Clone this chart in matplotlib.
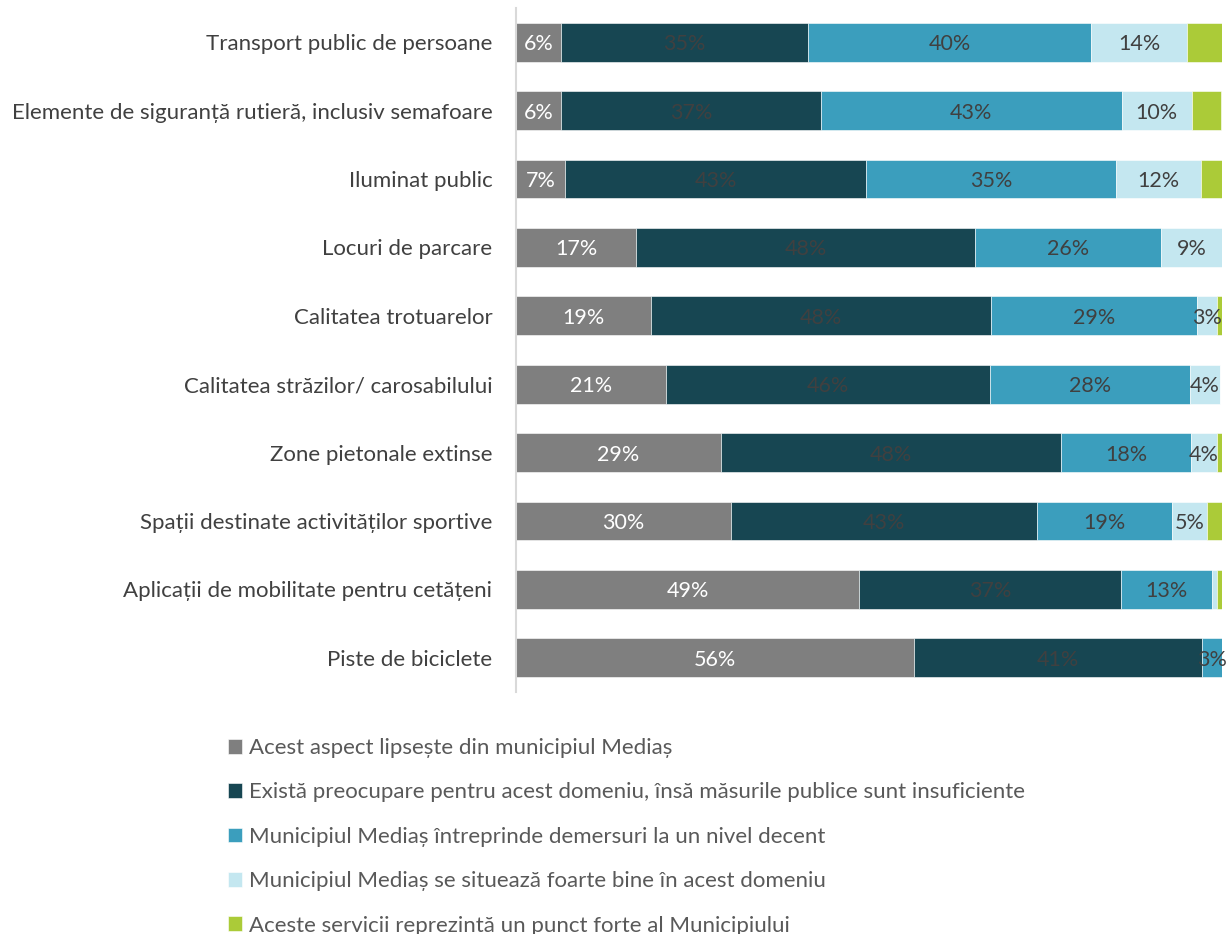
import numpy as np
import matplotlib.pyplot as plt

plt.rcParams["font.family"] = ["Lato", "DejaVu Sans"]

categories = [
    "Transport public de persoane",
    "Elemente de siguranță rutieră, inclusiv semafoare",
    "Iluminat public",
    "Locuri de parcare",
    "Calitatea trotuarelor",
    "Calitatea străzilor/ carosabilului",
    "Zone pietonale extinse",
    "Spații destinate activităților sportive",
    "Aplicații de mobilitate pentru cetățeni",
    "Piste de biciclete",
]

series_names = [
    "Acest aspect lipsește din municipiul Mediaș",
    "Există preocupare pentru acest domeniu, însă măsurile publice sunt insuficiente",
    "Municipiul Mediaș întreprinde demersuri la un nivel decent",
    "Municipiul Mediaș se situează foarte bine în acest domeniu",
    "Aceste servicii reprezintă un punct forte al Municipiului",
]

lipseste = [6.4, 6.4, 7.0, 17.0, 19.1, 21.2, 29.0, 30.5, 48.6, 56.4]
insuficiente = [35.0, 36.8, 42.6, 48.0, 48.2, 46.0, 48.2, 43.3, 37.1, 40.8]
decent = [40.1, 42.6, 35.4, 26.4, 29.2, 28.3, 18.4, 19.1, 12.9, 2.8]
foarte_bine = [13.6, 9.9, 12.0, 8.6, 2.8, 4.2, 3.7, 5.0, 0.7, 0.0]
punct_forte = [4.9, 4.2, 3.0, 0.0, 0.7, 0.0, 0.7, 2.1, 0.7, 0.0]

colors = ["#7f7f7f", "#174652", "#3b9ebd", "#c4e7f0", "#abcb38"]
label_colors = ["white", "#404040", "#404040", "#404040", None]

data = [lipseste, insuficiente, decent, foarte_bine, punct_forte]

fig = plt.figure(figsize=(12.32, 9.34), dpi=100)
ax = fig.add_axes([516 / 1232, 1 - 692 / 934, 706 / 1232, 684 / 934])

y = np.arange(len(categories))
left = np.zeros(len(categories))
for vals, col, lc, name in zip(data, colors, label_colors, series_names):
    vals = np.array(vals)
    ax.barh(y, vals, left=left, height=0.57, color=col, edgecolor="white",
            linewidth=0.4, label=name)
    if lc is not None:
        for yi, (l, v) in enumerate(zip(left, vals)):
            if v >= 2.5:
                ax.text(l + v / 2, yi, f"{round(v):d}%", ha="center",
                        va="center_baseline", color=lc, fontsize=15.5)
    left += vals

ax.set_xlim(0, 100)
ax.set_ylim(len(categories) - 0.5, -0.5)
ax.set_yticks(y)
ax.set_yticklabels(categories, fontsize=16, color="#404040")
ax.tick_params(axis="y", length=0, pad=17)
ax.set_xticks([])
for s in ["top", "right", "bottom"]:
    ax.spines[s].set_visible(False)
ax.spines["left"].set_color("#d9d9d9")
ax.spines["left"].set_linewidth(1.5)

fig.legend(loc="upper left", bbox_to_anchor=(219 / 1232, 1 - 729 / 934),
           frameon=False, fontsize=16, labelcolor="#595959",
           handlelength=0.65, handleheight=0.65, handletextpad=0.3,
           labelspacing=1.1, borderaxespad=0)

fig.savefig("out.png", dpi=100)
